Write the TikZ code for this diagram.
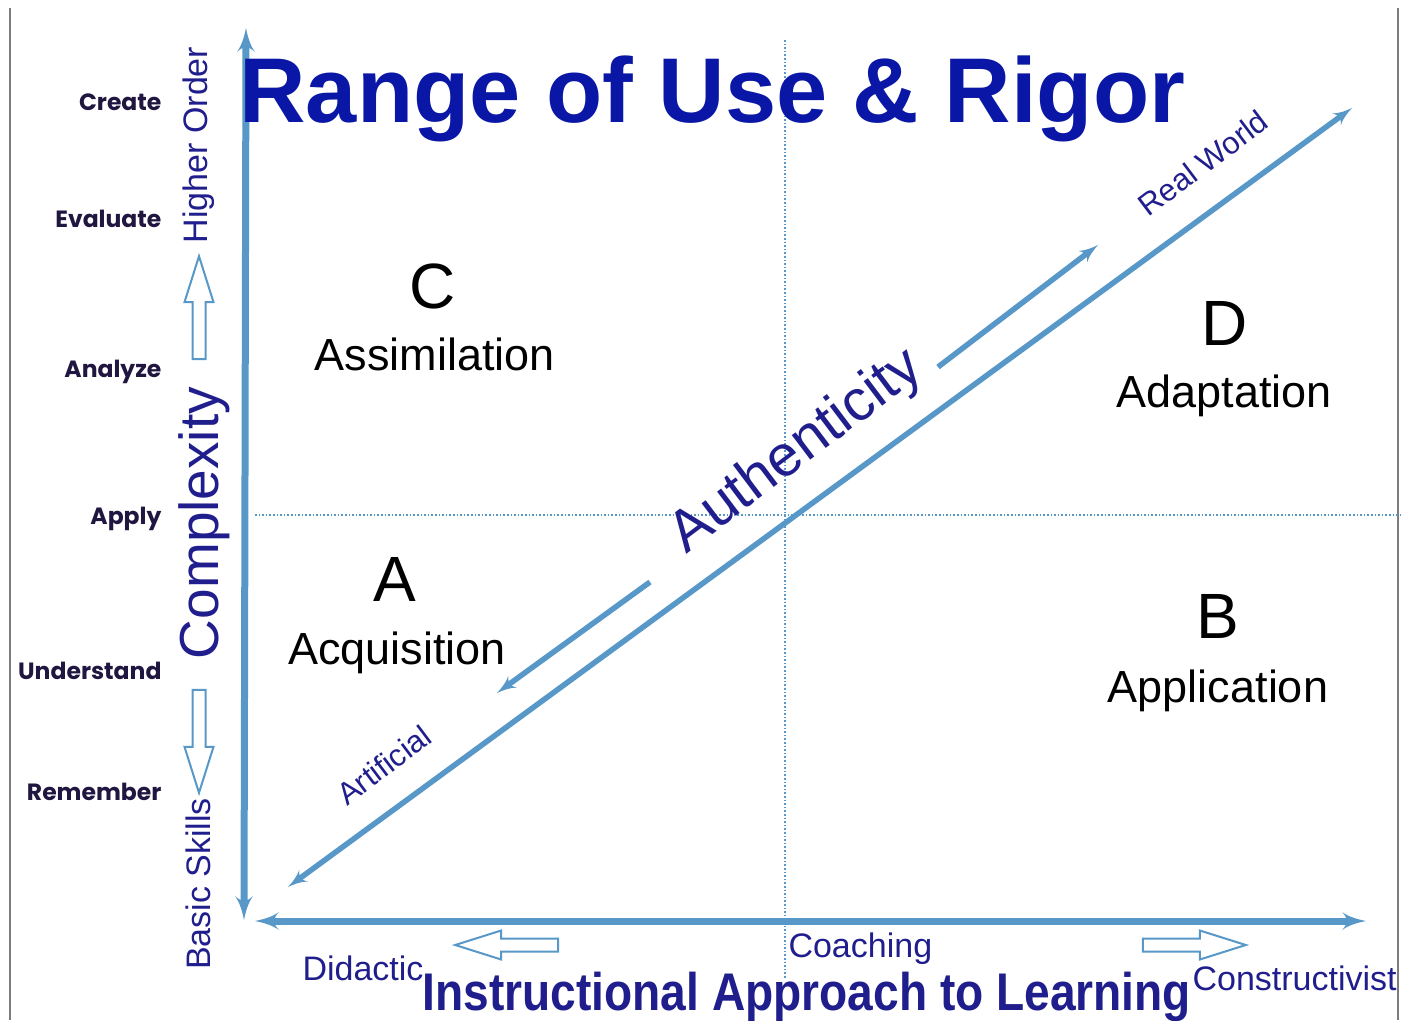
\documentclass[tikz,border=0pt]{standalone}
\usepackage{fontspec}
\setmainfont{Liberation Sans}
\newfontfamily\bloomfont{Poppins}
\usetikzlibrary{arrows}
\usetikzlibrary{shapes.arrows}
\definecolor{axisblue}{RGB}{88,152,200}
\definecolor{titleblue}{RGB}{10,22,165}
\definecolor{labelblue}{RGB}{32,30,140}
\definecolor{bloomnavy}{RGB}{32,22,64}
\definecolor{framegray}{RGB}{125,125,125}

\begin{document}
\begin{tikzpicture}[x=1pt, y=-1pt]
      \tikzset{axis/.style = {line width=7pt, color=axisblue, > = latex'}}
      \tikzset{trend/.style = {line width=5.5pt, color=axisblue, > = latex'}}
      \tikzset{gridline/.style = {dotted, line width=1.6pt, color=axisblue}}
      \tikzset{hollow/.style = {single arrow, draw=axisblue, fill=white, line width=2pt,
          inner sep=5.5pt, minimum height=103pt, single arrow head extend=8pt,
          single arrow tip angle=35}}
      \tikzset{level/.style = {anchor=base east, color=bloomnavy,
          font=\bloomfont\bfseries\fontsize{23.5}{23.5}\selectfont}}
      \tikzset{quad/.style = {anchor=base, font=\fontsize{64}{64}\selectfont}}
      \tikzset{stage/.style = {anchor=base, font=\fontsize{45}{45}\selectfont}}
      \tikzset{side/.style = {color=labelblue, rotate=90, font=\fontsize{34}{34}\selectfont}}
      \tikzset{slant/.style = {color=labelblue, rotate=37}}
      \tikzset{approach/.style = {anchor=base west, color=labelblue, font=\fontsize{34}{34}\selectfont}}
      \useasboundingbox (0,0) rectangle (1402,1020);
      % frame of the slide
      \draw[framegray, line width=2pt] (10,8) -- (10,1020);
      \draw[framegray, line width=2pt] (1398,8) -- (1398,1020);
      % quadrant grid
      \coordinate (gtop) at (785,40);
      \coordinate (gbot) at (785,978);
      \coordinate (gleft) at (255,515);
      \coordinate (gright) at (1400,515);
      \draw[gridline] (gtop) -- (gbot);
      \draw[gridline] (gleft) -- (gright);
      % axes
      \coordinate (ytop) at (246,28);
      \coordinate (ybot) at (244,920);
      \coordinate (xleft) at (255,921);
      \coordinate (xright) at (1366,921);
      \draw[axis, <->] (ybot) -- (ytop);
      \draw[axis, <->] (xleft) -- (xright);
      % authenticity diagonal
      \coordinate (dlow) at (288,887);
      \coordinate (dhigh) at (1352,108);
      \draw[trend, <->] (dlow) -- (dhigh);
      \coordinate (up0) at (938,367);
      \coordinate (up1) at (1098,245);
      \coordinate (dn0) at (650,582);
      \coordinate (dn1) at (497,693);
      \draw[trend, ->] (up0) -- (up1);
      \draw[trend, ->] (dn0) -- (dn1);
      \node[slant, font=\fontsize{58}{58}\selectfont] (auth) at (797,452) {Authenticity};
      \node[slant, font=\fontsize{31}{31}\selectfont] (real) at (1203,163) {Real World};
      \node[slant, font=\fontsize{31}{31}\selectfont] (artif) at (384,765) {Artificial};
      % title
      \node[anchor=base west, color=titleblue, font=\bfseries\fontsize{92}{92}\selectfont]
          (title) at (236,122) {Range of Use \& Rigor};
      % quadrants
      \node[quad] (qc) at (433,308) {C};
      \node[stage] (assim) at (435,370) {Assimilation};
      \node[quad] (qa) at (395,601) {A};
      \node[stage] (acqui) at (397,664) {Acquisition};
      \node[quad] (qd) at (1225,345) {D};
      \node[stage] (adapt) at (1224,407) {Adaptation};
      \node[quad] (qb) at (1218,638) {B};
      \node[stage] (appli) at (1218,702) {Application};
      % levels of thinking
      \node[level] (create) at (165,110) {Create};
      \node[level] (evaluate) at (165,227) {Evaluate};
      \node[level] (analyze) at (165,377) {Analyze};
      \node[level] (apply) at (165,524) {Apply};
      \node[level] (understand) at (165,679) {Understand};
      \node[level] (remember) at (165,800) {Remember};
      % complexity axis labels
      \node[side, font=\fontsize{55}{55}\selectfont] (complex) at (204,523) {Complexity};
      \node[side] (higher) at (199,145) {Higher Order};
      \node[side] (basic) at (198,884) {Basic Skills};
      \node[hollow, rotate=90] (upward) at (199,318) {};
      \node[hollow, rotate=-90] (downward) at (199,731) {};
      % instructional axis labels
      \node[hollow, rotate=180] (leftward) at (517,945) {};
      \node[hollow] (rightward) at (1184,945) {};
      \node[approach] (didactic) at (299,980) {Didactic};
      \node[approach] (coach) at (785,957) {Coaching};
      \node[approach, font=\fontsize{34}{34}\selectfont] (constr) at (1189,990) {Constructivist};
      \node[anchor=base west, color=labelblue, font=\bfseries\fontsize{53}{53}\selectfont]
          (instr) at (419,1010) {\scalebox{0.87}[1]{Instructional Approach to Learning}};
    \end{tikzpicture}
\end{document}
